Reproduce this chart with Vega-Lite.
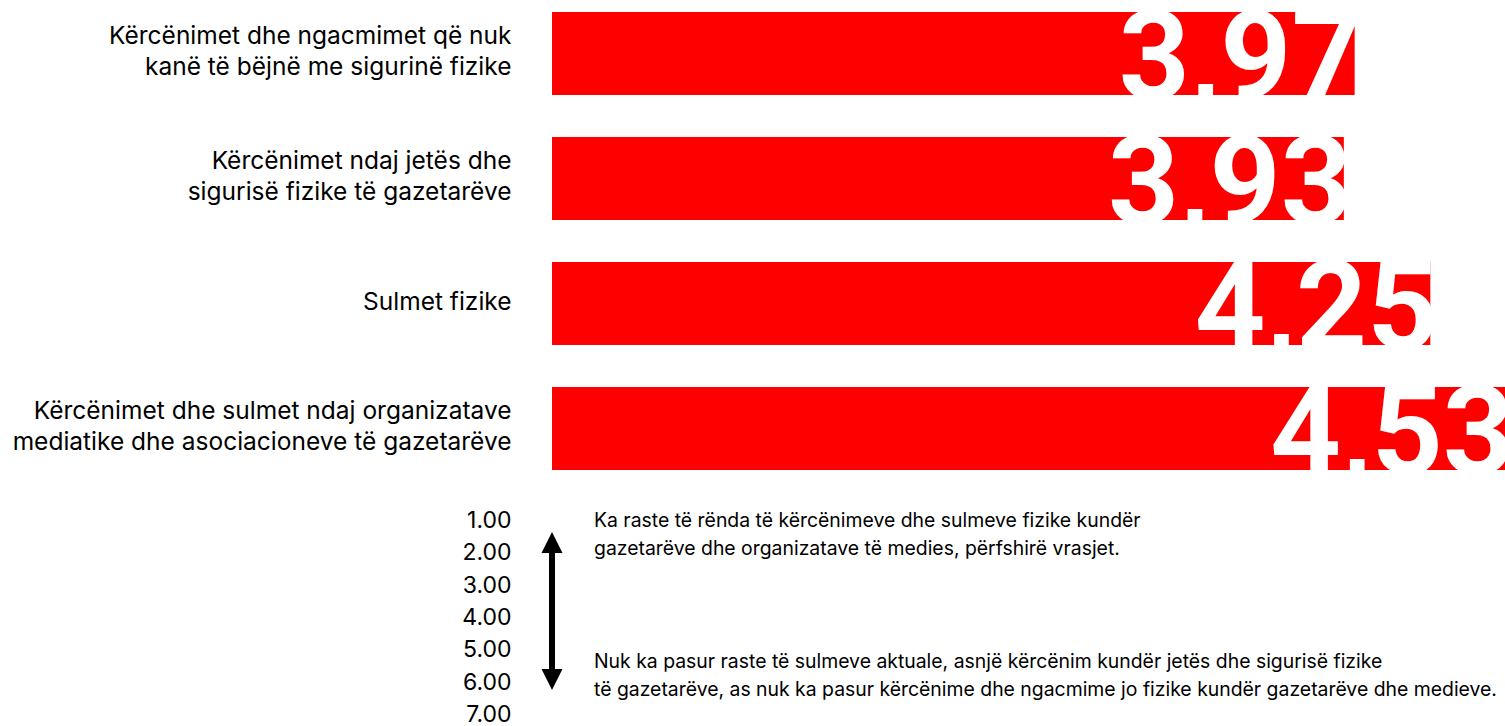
{
  "$schema": "https://vega.github.io/schema/vega-lite/v6.json",
  "padding": {"left": 12, "top": 0, "right": 0, "bottom": 0},
  "autosize": {"type": "pad"},
  "bounds": "flush",
  "spacing": 40.5,
  "config": {
    "font": "Inter",
    "view": {"stroke": null},
    "locale": {"number": {"decimal": ",", "thousands": ".", "grouping": [3], "currency": ["", " €"]}}
  },
  "vconcat": [
    {
      "width": 954,
      "height": 478,
      "data": {"values": [
        {"category": "Kërcënimet dhe ngacmimet që nuk|kanë të bëjnë me sigurinë fizike", "value": 3.97},
        {"category": "Kërcënimet ndaj jetës dhe|sigurisë fizike të gazetarëve", "value": 3.93},
        {"category": "Sulmet fizike", "value": 4.25},
        {"category": "Kërcënimet dhe sulmet ndaj organizatave|mediatike dhe asociacioneve të gazetarëve", "value": 4.53}
      ]},
      "encoding": {
        "y": {
          "field": "category", "type": "nominal", "sort": null,
          "scale": {"paddingInner": 0.336, "paddingOuter": 0.08},
          "axis": {"title": null, "domain": false, "ticks": false, "grid": false, "labelPadding": 41, "labelFontSize": 24.5, "labelLineHeight": 31, "labelColor": "#000000", "labelLimit": 700, "labelFont": "Inter",
            "labelOffset": {"condition": {"test": "indexof(datum.label, '|') >= 0", "value": -17}, "value": -1},
            "labelExpr": "split(datum.label, '|')"}
        }
      },
      "layer": [
        {
          "mark": {"type": "bar", "color": "#ff0000"},
          "encoding": {
            "x": {"field": "value", "type": "quantitative", "scale": {"domain": [1, 4.53], "zero": false, "nice": false}, "axis": null},
            "x2": {"datum": 1}
          }
        },
        {
          "mark": {"type": "text", "align": "right", "baseline": "alphabetic", "dx": 8, "dy": 45.5, "fontSize": 124, "fontWeight": "bold", "color": "#ffffff", "font": "Roboto"},
          "encoding": {
            "x": {"field": "value", "type": "quantitative"},
            "text": {"field": "value", "type": "quantitative", "format": ".2f"}
          }
        }
      ]
    },
    {
      "width": 954,
      "height": 194,
      "data": {"values": [{}]},
      "layer": [
        {
          "mark": {"type": "rule", "color": "#000000", "strokeWidth": 6},
          "encoding": {
            "x": {"datum": 0, "type": "quantitative", "scale": {"domain": [0, 1], "nice": false, "zero": false}, "axis": null},
            "y": {
              "datum": 1.68, "type": "quantitative",
              "scale": {"domain": [1, 7], "reverse": true, "nice": false, "zero": false},
              "axis": {"title": null, "values": [1, 2, 3, 4, 5, 6, 7], "tickCount": 7, "domain": false, "ticks": false, "grid": false, "labelOverlap": false, "labelPadding": 41, "labelFontSize": 23, "labelColor": "#000000", "labelFont": "Inter", "labelExpr": "replace(format(datum.value, '.2f'), ',', '.')"}
            },
            "y2": {"datum": 5.92}
          }
        },
        {
          "mark": {"type": "point", "shape": "M0,-1L1,1L-1,1Z", "size": 441, "filled": true, "color": "#000000", "opacity": 1, "strokeWidth": 0},
          "encoding": {"x": {"datum": 0, "type": "quantitative"}, "y": {"datum": 1.68, "type": "quantitative"}}
        },
        {
          "mark": {"type": "point", "shape": "M0,1L1,-1L-1,-1Z", "size": 441, "filled": true, "color": "#000000", "opacity": 1, "strokeWidth": 0},
          "encoding": {"x": {"datum": 0, "type": "quantitative"}, "y": {"datum": 5.92, "type": "quantitative"}}
        },
        {
          "mark": {"type": "text", "align": "left", "baseline": "middle", "dx": 42, "fontSize": 19.4, "lineHeight": 28, "color": "#000000", "font": "Inter",
            "text": ["Ka raste të rënda të kërcënimeve dhe sulmeve fizike kundër", "gazetarëve dhe organizatave të medies, përfshirë vrasjet."]},
          "encoding": {"x": {"datum": 0, "type": "quantitative"}, "y": {"datum": 1.02, "type": "quantitative"}}
        },
        {
          "mark": {"type": "text", "align": "left", "baseline": "middle", "dx": 42, "fontSize": 19.4, "lineHeight": 28, "color": "#000000", "font": "Inter",
            "text": ["Nuk ka pasur raste të sulmeve aktuale, asnjë kërcënim kundër jetës dhe sigurisë fizike", "të gazetarëve, as nuk ka pasur kërcënime dhe ngacmime jo fizike kundër gazetarëve dhe medieve."]},
          "encoding": {"x": {"datum": 0, "type": "quantitative"}, "y": {"datum": 5.38, "type": "quantitative"}}
        }
      ]
    }
  ]
}
